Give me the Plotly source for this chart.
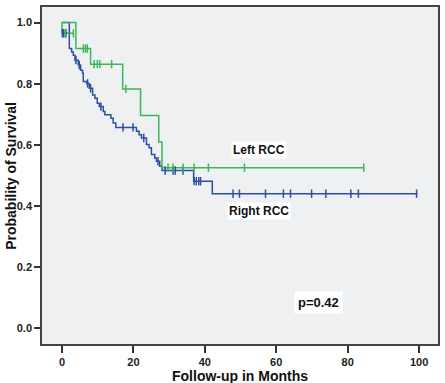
import numpy as np
import plotly.graph_objects as go

# Right RCC (blue) Kaplan-Meier step curve
blue_t = [0, 2.05, 2.7, 3.17, 3.63, 4.56, 5.21, 5.77, 5.96, 6.89, 7.64, 8.57, 9.22, 9.87, 10.43,
          11.55, 12.01, 13.69, 14.34, 15.08, 20.86, 21.6, 22.25, 23.65, 24.39, 25.05, 25.98,
          26.44, 27.37, 28.03, 36.87, 42.09, 99.5]
blue_s = [1.0, 0.915, 0.904, 0.893, 0.877, 0.861, 0.844, 0.834, 0.807, 0.801, 0.785, 0.763,
          0.752, 0.736, 0.725, 0.709, 0.698, 0.687, 0.671, 0.657, 0.644, 0.633, 0.622, 0.601,
          0.590, 0.568, 0.557, 0.546, 0.530, 0.516, 0.481, 0.440, 0.440]
blue_early_t = [0, 2.05]
blue_early_s = [0.965, 0.965]
blue_early_cens = [0.1, 0.5, 1.1]
blue_cens = [3.91, 4.84, 7.17, 8.01, 10.9, 17.1, 19.9, 22.9, 26.9, 28.9, 31.1, 31.7, 33.9,
             37.0, 37.6, 38.3, 38.8, 47.9, 49.7, 57.0, 62.0, 64.0, 69.9, 73.9, 80.9, 83.0, 99.3]

# Left RCC (green)
green_t = [0, 0, 3.9, 8.0, 17.0, 22.0, 27.1, 28.0, 84.5]
green_s = [0.965, 1.0, 0.915, 0.864, 0.783, 0.696, 0.609, 0.525, 0.525]
green_early_t = [0, 3.2]
green_early_s = [0.965, 0.965]
green_early_cens = [0.9, 3.2]
green_cens = [6.0, 6.6, 7.1, 9.0, 9.9, 10.6, 13.9, 17.9, 29.7, 31.1, 33.9, 37.0, 41.0, 51.1, 84.5]

x_ticks = [0, 20, 40, 60, 80, 100]
y_ticks = [0.0, 0.2, 0.4, 0.6, 0.8, 1.0]

BLUE = "#2c4fa3"
GREEN = "#3db65a"


def step_at(t, s, c):
    t = np.asarray(t)
    s = np.asarray(s)
    idx = np.searchsorted(t, c, side="right") - 1
    return s[idx]


fig = go.Figure()


def add_curve(t, s, color):
    fig.add_trace(go.Scatter(x=t, y=s, mode="lines", line=dict(color=color, width=1.5, shape="hv"),
                             showlegend=False, hoverinfo="skip"))


def add_cens(x, y, color):
    fig.add_trace(go.Scatter(x=x, y=y, mode="markers",
                             marker=dict(symbol="line-ns", size=6, line=dict(color=color, width=1.5)),
                             showlegend=False, hoverinfo="skip"))


add_curve(blue_early_t, blue_early_s, BLUE)
add_curve(blue_t, blue_s, BLUE)
add_curve(green_early_t, green_early_s, GREEN)
add_curve(green_t, green_s, GREEN)
add_cens(blue_early_cens, [blue_early_s[0]] * len(blue_early_cens), BLUE)
add_cens(blue_cens, step_at(blue_t, blue_s, blue_cens), BLUE)
add_cens(green_early_cens, [green_early_s[0]] * len(green_early_cens), GREEN)
add_cens(green_cens, step_at(green_t[1:], green_s[1:], green_cens), GREEN)

tick_font = dict(family="Liberation Sans, Arial", size=11, color="#222", weight="bold")
lab_font = dict(family="Liberation Sans, Arial", size=12, color="#111", weight="bold")

fig.add_annotation(x=55.3, y=0.582, text="Left RCC", showarrow=False, font=lab_font,
                   bgcolor="white", borderpad=1)
fig.add_annotation(x=55.3, y=0.384, text="Right RCC", showarrow=False, font=lab_font,
                   bgcolor="white", borderpad=1)
fig.add_annotation(x=71.8, y=0.083, text="p=0.42", showarrow=False,
                   font=dict(family="Liberation Sans, Arial", size=13, color="#111", weight="bold"),
                   bgcolor="white", borderpad=3)

fig.add_annotation(xref="paper", yref="paper", x=0.5, y=-0.064, yanchor="top",
                   text="Follow-up in Months", showarrow=False,
                   font=dict(family="Liberation Sans, Arial", size=14, color="#111", weight="bold"))
fig.add_annotation(xref="paper", yref="paper", x=-0.08, y=0.5, xanchor="center",
                   text="Probability of Survival", showarrow=False, textangle=-90,
                   font=dict(family="Liberation Sans, Arial", size=14, color="#111", weight="bold"))

fig.update_xaxes(range=[-5.6, 105.3], tickvals=x_ticks, ticks="outside", ticklen=7, tickwidth=1.5,
                 tickcolor="#333", showgrid=False, zeroline=False, showline=True, linecolor="#444",
                 linewidth=1.5, mirror=True, tickfont=tick_font)
fig.update_yaxes(range=[-0.052, 1.051], tickvals=y_ticks, tickformat=".1f", ticks="outside",
                 ticklen=6, tickwidth=1.5, tickcolor="#333", showgrid=False, zeroline=False,
                 showline=True, linecolor="#444", linewidth=1.5, mirror=True, tickfont=tick_font)

fig.update_layout(width=445, height=383, margin=dict(l=42, r=6, t=5, b=39),
                  plot_bgcolor="#eef0f2", paper_bgcolor="white")

fig.write_html("out.html")
